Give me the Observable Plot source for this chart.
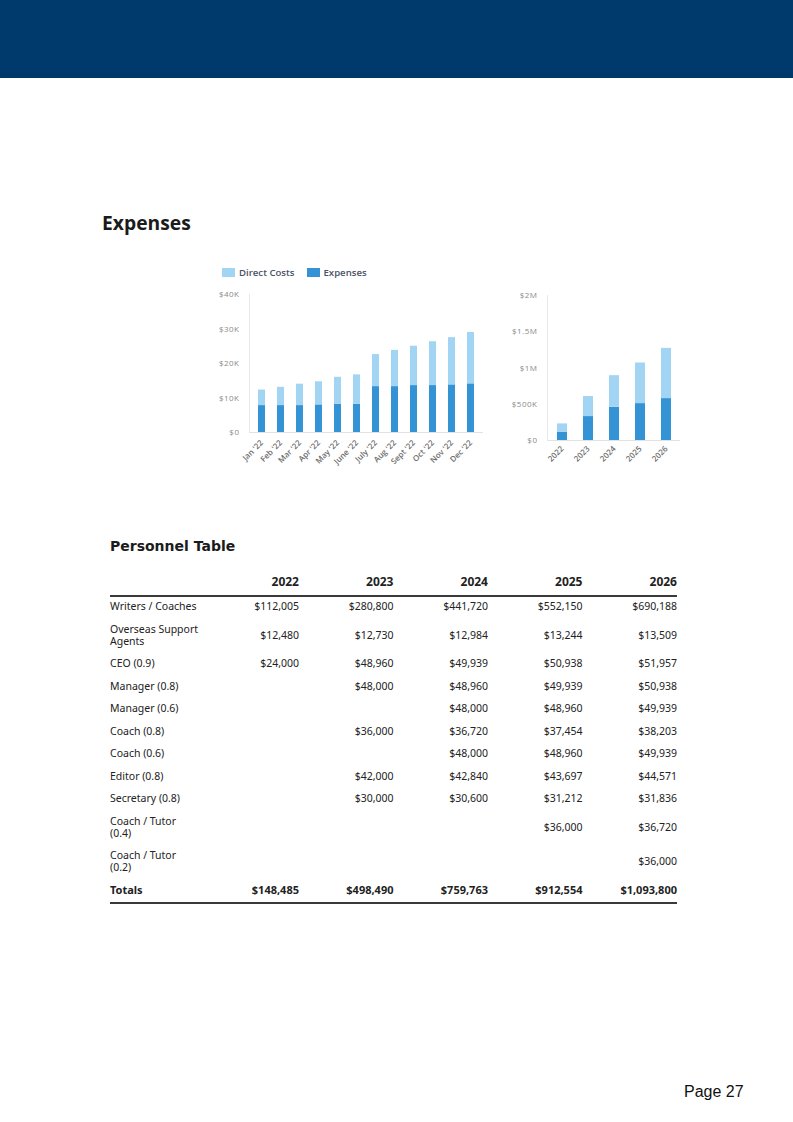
<!DOCTYPE html>
<html>
<head>
<meta charset="utf-8">
<script src="https://cdn.jsdelivr.net/npm/d3@7"></script>
<script src="https://cdn.jsdelivr.net/npm/@observablehq/plot@0.6"></script>
<style>
  html, body { margin: 0; padding: 0; }
  body { width: 793px; height: 1122px; position: relative; background: #fff; overflow: hidden; font-family: "Open Sans", sans-serif; }
  #band { position: absolute; left: 0; top: 0; width: 793px; height: 78px; background: #00396b; }
  #title { position: absolute; left: 102px; top: 208px; font: 700 19.3px/30px "Open Sans", sans-serif; color: #1b1b1b; }
  #legend { position: absolute; left: 222px; top: 266px; display: flex; align-items: center; font: 600 9.6px/13px "Open Sans", sans-serif; color: #4c5265; }
  #legend .sw { width: 13px; height: 9px; margin-right: 4px; }
  #legend .item { display: flex; align-items: center; margin-right: 12px; }
  #monthly { position: absolute; left: 200px; top: 285px; }
  #yearly { position: absolute; left: 490px; top: 285px; }
  #ptitle { position: absolute; left: 110px; top: 535px; font: 700 14px/22px "DejaVu Sans", sans-serif; color: #1b1b1b; }
  #tbl { position: absolute; left: 110px; top: 571px; width: 567px; border-collapse: collapse; table-layout: fixed; font-family: "Noto Sans", sans-serif; color: #222; }
  #tbl col { width: 94.5px; }
  #tbl th { font: 700 12px/14px "Noto Sans", sans-serif; text-align: right; padding: 4px 0 6px 0; border-bottom: 2px solid #3a3a3a; }
  #tbl td { font-size: 10.5px; line-height: 12px; padding: 5.25px 0; text-align: right; vertical-align: middle; white-space: pre-line; }
  #tbl td.lab { text-align: left; }
  #tbl tr.first td { padding-top: 3px; }
  #tbl tr.tot td { font-weight: 700; font-size: 11px; line-height: 14px; padding: 5px 0 5px 0; border-bottom: 2px solid #3a3a3a; }
  #page { position: absolute; left: 684px; top: 1082px; font: 16px/20px "Liberation Sans", Arial, sans-serif; color: #111; }
  .ytick text { letter-spacing: 0.5px; }
</style>
</head>
<body>
<div id="band"></div>
<div id="title">Expenses</div>
<div id="legend"></div>
<div id="monthly"></div>
<div id="yearly"></div>
<div id="ptitle">Personnel Table</div>
<table id="tbl"></table>
<div id="page">Page 27</div>
<script>
// ---- Chart data ----
const seriesNames = ["Direct Costs", "Expenses"];
const seriesColors = ["#a2d4f4", "#3393d4"];

const months = ["Jan '22", "Feb '22", "Mar '22", "Apr '22", "May '22", "June '22", "July '22", "Aug '22", "Sept '22", "Oct '22", "Nov '22", "Dec '22"];
const monthlyExpenses = [7800, 7800, 7800, 8000, 8200, 8200, 13300, 13300, 13600, 13600, 13800, 14100];
const monthlyDirectCosts = [4500, 5300, 6200, 6700, 7800, 8500, 9300, 10500, 11400, 12700, 13700, 14900];
const monthlyTicks = [0, 10000, 20000, 30000, 40000];
const monthlyTickLabels = ["$0", "$10K", "$20K", "$30K", "$40K"];

const years = ["2022", "2023", "2024", "2025", "2026"];
const yearlyExpenses = [115000, 330000, 459000, 509000, 578000];
const yearlyDirectCosts = [114000, 276000, 435000, 560000, 693000];
const yearlyTicks = [0, 500000, 1000000, 1500000, 2000000];
const yearlyTickLabels = ["$0", "$500K", "$1M", "$1.5M", "$2M"];

// ---- Table data ----
const tableYears = ["2022", "2023", "2024", "2025", "2026"];
const roles = ["Writers / Coaches", "Overseas Support\nAgents", "CEO (0.9)", "Manager (0.8)", "Manager (0.6)", "Coach (0.8)", "Coach (0.6)", "Editor (0.8)", "Secretary (0.8)", "Coach / Tutor\n(0.4)", "Coach / Tutor\n(0.2)"];
const salaries = [
  ["$112,005", "$280,800", "$441,720", "$552,150", "$690,188"],
  ["$12,480", "$12,730", "$12,984", "$13,244", "$13,509"],
  ["$24,000", "$48,960", "$49,939", "$50,938", "$51,957"],
  ["", "$48,000", "$48,960", "$49,939", "$50,938"],
  ["", "", "$48,000", "$48,960", "$49,939"],
  ["", "$36,000", "$36,720", "$37,454", "$38,203"],
  ["", "", "$48,000", "$48,960", "$49,939"],
  ["", "$42,000", "$42,840", "$43,697", "$44,571"],
  ["", "$30,000", "$30,600", "$31,212", "$31,836"],
  ["", "", "", "$36,000", "$36,720"],
  ["", "", "", "", "$36,000"]
];
const totalsLabel = "Totals";
const totals = ["$148,485", "$498,490", "$759,763", "$912,554", "$1,093,800"];

// ---- Legend ----
const legend = document.getElementById("legend");
seriesNames.forEach((name, i) => {
  const item = document.createElement("div");
  item.className = "item";
  const sw = document.createElement("div");
  sw.className = "sw";
  sw.style.background = seriesColors[i];
  const t = document.createElement("span");
  t.textContent = name;
  item.appendChild(sw); item.appendChild(t);
  legend.appendChild(item);
});

// ---- Charts ----
const colorScale = {domain: seriesNames, range: seriesColors};
const chartStyle = {fontFamily: "Open Sans", fontSize: "8px", color: "#8a8a8a", background: "transparent", overflow: "visible"};

const monthlyData = months.flatMap((m, i) => [
  {period: m, series: "Expenses", value: monthlyExpenses[i]},
  {period: m, series: "Direct Costs", value: monthlyDirectCosts[i]}
]);
const yearlyData = years.flatMap((y, i) => [
  {period: y, series: "Expenses", value: yearlyExpenses[i]},
  {period: y, series: "Direct Costs", value: yearlyDirectCosts[i]}
]);

function barChart(data, domainX, ticks, labels, opts) {
  return Plot.plot({
    width: opts.width, height: opts.height,
    marginLeft: opts.marginLeft, marginRight: opts.marginRight, marginTop: opts.marginTop, marginBottom: opts.marginBottom,
    style: chartStyle,
    color: colorScale,
    x: {domain: domainX, paddingInner: 0.63, paddingOuter: opts.paddingOuter, label: null},
    y: {domain: [ticks[0], ticks[ticks.length - 1]], label: null},
    marks: [
      Plot.ruleY([0], {stroke: "#e2e2e2"}),
      Plot.frame({anchor: "left", stroke: "#e8e8e8"}),
      Plot.barY(data, {x: "period", y: "value", fill: "series"}),
      Plot.axisY({ticks: ticks, tickFormat: (d) => labels[ticks.indexOf(d)], tickSize: 0, tickPadding: 10, label: null, className: "ytick"}),
      Plot.axisX({tickSize: 0, tickRotate: -45, tickPadding: opts.xPadding, label: null, fontWeight: 600, fill: "#6e6e6e"})
    ]
  });
}

document.getElementById("monthly").appendChild(barChart(monthlyData, months, monthlyTicks, monthlyTickLabels,
  {width: 290, height: 202, marginLeft: 49, marginRight: 7, marginTop: 9, marginBottom: 55, paddingOuter: 0.33, xPadding: 9}));
document.getElementById("yearly").appendChild(barChart(yearlyData, years, yearlyTicks, yearlyTickLabels,
  {width: 198, height: 200, marginLeft: 57, marginRight: 8, marginTop: 10, marginBottom: 45, paddingOuter: 0.3, xPadding: 7}));

// ---- Table ----
const tbl = document.getElementById("tbl");
const colgroup = document.createElement("colgroup");
for (let i = 0; i < 6; i++) colgroup.appendChild(document.createElement("col"));
tbl.appendChild(colgroup);
const thead = document.createElement("thead");
const hr = document.createElement("tr");
["", ...tableYears].forEach(y => { const th = document.createElement("th"); th.textContent = y; hr.appendChild(th); });
thead.appendChild(hr); tbl.appendChild(thead);
const tbody = document.createElement("tbody");
roles.forEach((r, i) => {
  const tr = document.createElement("tr");
  if (i === 0) tr.className = "first";
  const lab = document.createElement("td"); lab.className = "lab"; lab.textContent = r; tr.appendChild(lab);
  salaries[i].forEach(v => { const td = document.createElement("td"); td.textContent = v; tr.appendChild(td); });
  tbody.appendChild(tr);
});
const trT = document.createElement("tr"); trT.className = "tot";
const labT = document.createElement("td"); labT.className = "lab"; labT.textContent = totalsLabel; trT.appendChild(labT);
totals.forEach(v => { const td = document.createElement("td"); td.textContent = v; trT.appendChild(td); });
tbody.appendChild(trT);
tbl.appendChild(tbody);
</script>
</body>
</html>
